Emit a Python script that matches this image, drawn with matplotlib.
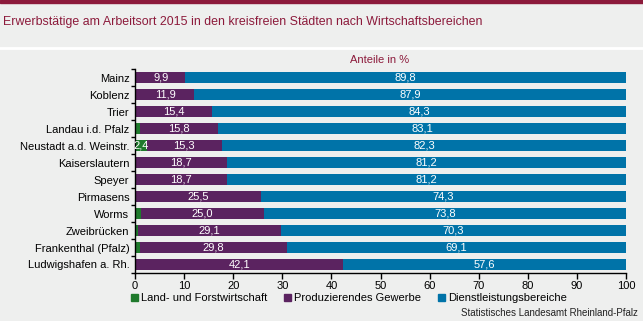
import matplotlib
matplotlib.use("Agg")
import matplotlib.pyplot as plt
from matplotlib.patches import Patch
import numpy as np

plt.rcParams["font.family"] = ["Liberation Sans Narrow", "Liberation Sans", "DejaVu Sans"]

cities = ["Mainz", "Koblenz", "Trier", "Landau i.d. Pfalz", "Neustadt a.d. Weinstr.",
          "Kaiserslautern", "Speyer", "Pirmasens", "Worms", "Zweibrücken",
          "Frankenthal (Pfalz)", "Ludwigshafen a. Rh."]
agri = [0.3, 0.2, 0.3, 1.1, 2.4, 0.1, 0.1, 0.2, 1.2, 0.6, 1.1, 0.3]
prod = [9.9, 11.9, 15.4, 15.8, 15.3, 18.7, 18.7, 25.5, 25.0, 29.1, 29.8, 42.1]
serv = [89.8, 87.9, 84.3, 83.1, 82.3, 81.2, 81.2, 74.3, 73.8, 70.3, 69.1, 57.6]
series_names = ["Land- und Forstwirtschaft", "Produzierendes Gewerbe", "Dienstleistungsbereiche"]

GREEN = "#1F7A2C"
PURPLE = "#5B2360"
BLUE = "#0073A8"
DARKRED = "#8C1A3B"
BG = "#EEEFEE"

fig = plt.figure(figsize=(6.43, 3.21), dpi=100, facecolor=BG)

# header band and separator
fig.add_artist(plt.Rectangle((0, 1 - 3 / 321), 1, 3 / 321, transform=fig.transFigure,
                             color=DARKRED, zorder=5))
fig.add_artist(plt.Line2D([0, 1], [1 - 48 / 321] * 2, transform=fig.transFigure,
                          color="white", lw=2, zorder=5))
fig.text(3 / 643, 1 - 22 / 321, "Erwerbstätige am Arbeitsort 2015 in den kreisfreien Städten nach Wirtschaftsbereichen",
         color=DARKRED, fontsize=8.9, va="center", ha="left")

ax = fig.add_axes([135 / 643, 1 - 273 / 321, (626 - 135) / 643, (273 - 69) / 321])
ax.set_facecolor(BG)

y = np.arange(len(cities))
h = 0.6
a = np.array(agri)
p = np.array(prod)
s = np.array(serv)
ax.barh(y, a, height=h, color=GREEN)
ax.barh(y, p, left=a, height=h, color=PURPLE)
ax.barh(y, s, left=a + p, height=h, color=BLUE)

for i in range(len(cities)):
    if a[i] >= 2:
        ax.text(a[i] / 2, y[i], f"{a[i]:.1f}".replace(".", ","), color="white",
                fontsize=8, ha="center", va="center")
    ax.text(a[i] + p[i] / 2, y[i], f"{p[i]:.1f}".replace(".", ","), color="white",
            fontsize=8, ha="center", va="center")
    ax.text(a[i] + p[i] + s[i] / 2, y[i], f"{s[i]:.1f}".replace(".", ","), color="white",
            fontsize=8, ha="center", va="center")

ax.set_xlim(0, 100)
ax.set_ylim(len(cities) - 0.5, -0.5)
ax.set_xticks(np.arange(0, 101, 10))
ax.set_yticks(y)
ax.set_yticklabels(cities)
ax.set_yticks(np.arange(-0.5, len(cities)), minor=True)
ax.tick_params(axis="y", which="major", length=0, labelsize=8, pad=4)
ax.tick_params(axis="y", which="minor", length=3, width=1, direction="out")
ax.tick_params(axis="x", length=4, width=1, labelsize=8, pad=2)
for side in ("top", "right"):
    ax.spines[side].set_visible(False)
ax.spines["left"].set_linewidth(1)
ax.spines["bottom"].set_linewidth(1)

fig.text(380 / 643, 1 - 60 / 321, "Anteile in %", color=DARKRED, fontsize=8,
         ha="center", va="center")

handles = [Patch(color=c) for c in (GREEN, PURPLE, BLUE)]
fig.legend(handles, series_names, ncol=3, loc="center", bbox_to_anchor=(349 / 643, 1 - 298 / 321),
           frameon=False, fontsize=8, handlelength=0.6, handleheight=0.6,
           handletextpad=0.3, columnspacing=1.5)

fig.text(638 / 643, 1 - 313 / 321, "Statistisches Landesamt Rheinland-Pfalz", fontsize=7,
         ha="right", va="center", color="#222222")

fig.savefig("out.png", dpi=100, facecolor=BG)
